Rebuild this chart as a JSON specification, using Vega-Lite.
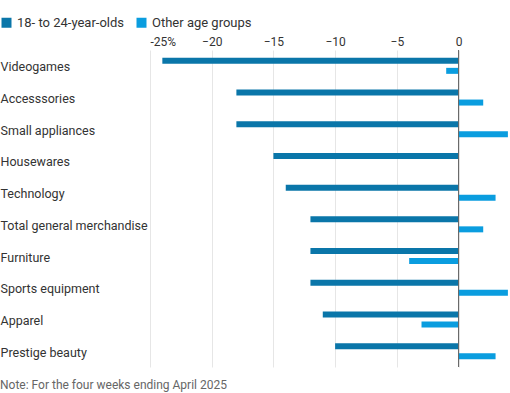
{
  "$schema": "https://vega.github.io/schema/vega-lite/v6.json",
  "width": 360,
  "height": 317,
  "autosize": {"type": "none"},
  "padding": {"left": 150, "top": 50, "right": 0, "bottom": 26},
  "background": "white",
  "config": {
    "view": {"stroke": null},
    "font": "Roboto",
    "text": {"font": "Roboto"}
  },
  "title": {
    "text": "Note: For the four weeks ending April 2025",
    "orient": "bottom",
    "anchor": "start",
    "frame": "group",
    "dx": -150,
    "offset": 12,
    "fontSize": 12,
    "fontWeight": "normal",
    "color": "#666666",
    "font": "Roboto"
  },
  "data": {
    "values": [
      {"category": "Videogames", "group": "18- to 24-year-olds", "value": -24},
      {"category": "Videogames", "group": "Other age groups", "value": -1},
      {"category": "Accesssories", "group": "18- to 24-year-olds", "value": -18},
      {"category": "Accesssories", "group": "Other age groups", "value": 2},
      {"category": "Small appliances", "group": "18- to 24-year-olds", "value": -18},
      {"category": "Small appliances", "group": "Other age groups", "value": 4},
      {"category": "Housewares", "group": "18- to 24-year-olds", "value": -15},
      {"category": "Housewares", "group": "Other age groups", "value": 0},
      {"category": "Technology", "group": "18- to 24-year-olds", "value": -14},
      {"category": "Technology", "group": "Other age groups", "value": 3},
      {"category": "Total general merchandise", "group": "18- to 24-year-olds", "value": -12},
      {"category": "Total general merchandise", "group": "Other age groups", "value": 2},
      {"category": "Furniture", "group": "18- to 24-year-olds", "value": -12},
      {"category": "Furniture", "group": "Other age groups", "value": -4},
      {"category": "Sports equipment", "group": "18- to 24-year-olds", "value": -12},
      {"category": "Sports equipment", "group": "Other age groups", "value": 4},
      {"category": "Apparel", "group": "18- to 24-year-olds", "value": -11},
      {"category": "Apparel", "group": "Other age groups", "value": -3},
      {"category": "Prestige beauty", "group": "18- to 24-year-olds", "value": -10},
      {"category": "Prestige beauty", "group": "Other age groups", "value": 3}
    ]
  },
  "layer": [
    {
      "mark": {"type": "bar", "clip": true},
      "encoding": {
        "y": {
          "field": "category",
          "type": "nominal",
          "sort": null,
          "scale": {"paddingInner": 0, "paddingOuter": 0},
          "axis": {
            "title": null,
            "domain": false,
            "ticks": false,
            "tickSize": 0,
            "labelAlign": "left",
            "labelPadding": 150,
            "labelOffset": 1.5,
            "labelFontSize": 12.5,
            "labelColor": "#333333",
            "labelFont": "Roboto"
          }
        },
        "yOffset": {
          "field": "group",
          "type": "nominal",
          "scale": {"paddingInner": 0.4, "paddingOuter": 0.785}
        },
        "x": {
          "field": "value",
          "type": "quantitative",
          "scale": {"domain": [-25, 4.17], "nice": false, "zero": false},
          "axis": {
            "orient": "top",
            "title": null,
            "values": [-25, -20, -15, -10, -5, 0],
            "labelExpr": "datum.value == -25 ? '-25%' : datum.label",
            "domain": false,
            "ticks": false,
            "tickSize": 0,
            "labelPadding": 2,
            "labelFontSize": 12,
            "labelColor": "#333333",
            "labelFont": "Roboto",
            "grid": true,
            "gridColor": "#e6e6e6",
            "gridWidth": 1
          }
        },
        "color": {
          "field": "group",
          "type": "nominal",
          "scale": {"domain": ["18- to 24-year-olds", "Other age groups"], "range": ["#0a76a9", "#0a9ddf"]},
          "legend": {
            "title": null,
            "orient": "none",
            "direction": "horizontal",
            "legendX": -150,
            "legendY": -34,
            "symbolType": "square",
            "symbolSize": 100,
            "symbolStrokeWidth": 0,
            "labelFontSize": 13,
            "labelColor": "#333333",
            "labelFont": "Roboto",
            "columnPadding": 10,
            "symbolOffset": 0
          }
        }
      }
    },
    {
      "data": {"values": [{"x": 0}]},
      "mark": {"type": "rule", "color": "#666666", "strokeWidth": 1},
      "encoding": {"x": {"field": "x", "type": "quantitative"}}
    }
  ]
}
